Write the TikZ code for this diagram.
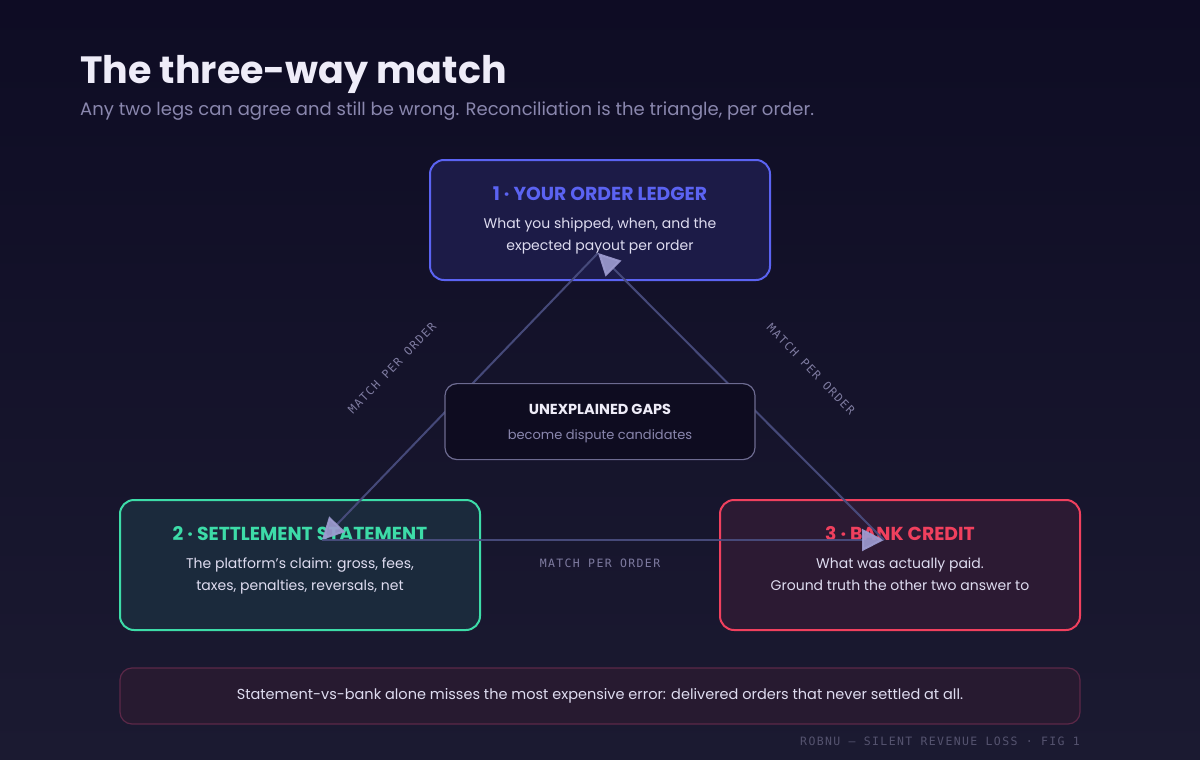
\documentclass[tikz,border=0pt]{standalone}
\usepackage{fontspec}
\setmainfont{Poppins}
\newfontfamily\lblmono[LetterSpace=12]{DejaVu Sans Mono}
\usetikzlibrary{positioning, arrows.meta, calc}
\usepackage{xcolor}
\definecolor{bgtop}{HTML}{0E0C24}
\definecolor{bgbot}{HTML}{1B1A31}
\definecolor{titletxt}{HTML}{EEECF8}
\definecolor{subtxt}{HTML}{8A87AE}
\definecolor{bodytxt}{HTML}{DEDCF0}
\definecolor{ledgerc}{HTML}{5B63F2}
\definecolor{ledgerbg}{HTML}{1C1B47}
\definecolor{settlec}{HTML}{3DDCA8}
\definecolor{settlebg}{HTML}{1B2A3C}
\definecolor{bankc}{HTML}{F0405E}
\definecolor{bankbg}{HTML}{2C1A33}
\definecolor{gapline}{HTML}{6C6A90}
\definecolor{gapbg}{HTML}{0E0C20}
\definecolor{connline}{HTML}{4A4E80}
\definecolor{tipfill}{HTML}{9C9ACF}
\definecolor{lblgray}{HTML}{7E7BA0}
\definecolor{noteline}{HTML}{5C2848}
\definecolor{notebg}{HTML}{271A30}
\definecolor{footgray}{HTML}{55536F}
\newcommand{\cardtitle}[2]{{\color{#1}\fontsize{18.8}{22}\selectfont\bfseries #2}}
\newcommand{\lowpad}{\rule[-14pt]{0pt}{14pt}}
\newcommand{\toppad}{\rule{0pt}{15pt}}
\tikzset{
  card/.style={draw, rounded corners=14pt, line width=2pt, align=center,
               text=bodytxt, font=\fontsize{14}{22}\selectfont},
  ledgercard/.style={card, fill=ledgerbg, draw=ledgerc,
                     minimum width=340pt, minimum height=120pt},
  settlecard/.style={card, fill=settlebg, draw=settlec,
                     minimum width=360pt, minimum height=130pt},
  bankcard/.style={card, fill=bankbg, draw=bankc,
                   minimum width=360pt, minimum height=130pt},
  gapcard/.style={draw=gapline, fill=gapbg, rounded corners=12pt, line width=1.2pt,
                  minimum width=310pt, minimum height=76pt, align=center,
                  text=titletxt, font=\fontsize{14.5}{20}\selectfont},
  notebox/.style={draw=noteline, fill=notebg, rounded corners=12pt, line width=1.2pt,
                  minimum width=960pt, minimum height=56pt,
                  text=bodytxt, font=\fontsize{14.5}{18}\selectfont},
  conn/.style={-{Triangle[length=22pt, width=22pt, fill=tipfill, color=tipfill]},
               draw=connline, line width=2pt, opacity=0.92},
  matchlbl/.style={font=\lblmono\fontsize{11.5}{13}\selectfont, text=lblgray, inner sep=0pt},
  footlbl/.style={font=\lblmono\fontsize{11.5}{13}\selectfont, text=footgray, inner sep=0pt},
}

\begin{document}
\begin{tikzpicture}[x=1pt, y=-1pt]

%% ====================  CANVAS  ====================

\fill[top color=bgtop, bottom color=bgbot] (0,0) rectangle (1200,760);
\useasboundingbox (0,0) rectangle (1200,760);

\node[anchor=base west, inner sep=0pt, text=titletxt,
      font=\fontsize{38}{44}\selectfont\bfseries] (title) at (80,84) {The three-way match};
\node[anchor=base west, inner sep=0pt, text=subtxt,
      font=\fontsize{18}{22}\selectfont] (subtitle) at (80,115)
  {Any two legs can agree and still be wrong. Reconciliation is the triangle, per order.};

%% ====================  THE THREE LEGS  ====================

\node[ledgercard] (ledger) at (600,220)
  {\cardtitle{ledgerc}{1 · YOUR ORDER LEDGER}\\[6pt]
   What you shipped, when, and the\\expected payout per order};

\node[settlecard] (settle) at (300,565)
  {\cardtitle{settlec}{2 · SETTLEMENT STATEMENT}\\[6pt]
   The platform's claim: gross, fees,\\taxes, penalties, reversals, net\lowpad};

\node[bankcard] (bank) at (900,565)
  {\cardtitle{bankc}{3 · BANK CREDIT}\\[6pt]
   What was actually paid.\\Ground truth the other two answer to\lowpad};

%% ====================  MATCH ARROWS  ====================

\coordinate (ledger_in) at ($(ledger.south)+(-2,-28)$);
\coordinate (settle_in) at ($(settle.north)+(22,41)$);
\coordinate (bank_in)   at ($(bank.north)+(-16,41)$);

\draw[conn] (ledger_in) -- (settle_in);
\draw[conn] (settle_in) -- (bank_in);
\draw[conn] (bank_in)   -- (ledger_in);

\node[matchlbl, rotate=46]  (lbl_ls) at (392,368) {MATCH PER ORDER};
\node[matchlbl, rotate=-46] (lbl_lb) at (811,369) {MATCH PER ORDER};
\node[matchlbl]             (lbl_sb) at (600,563) {MATCH PER ORDER};

%% ====================  CENTRE  ====================

\node[gapcard, below=102pt of ledger.south] (gaps)
  {\toppad\textbf{UNEXPLAINED GAPS}\\[5pt]
   {\color{subtxt}\fontsize{13}{18}\selectfont become dispute candidates}};

%% ====================  NOTE + FOOTER  ====================

\node[notebox] (note) at (600,696)
  {Statement-vs-bank alone misses the most expensive error: delivered orders that never settled at all.};

\node[footlbl, anchor=east] (foot) at (1080,741) {ROBNU — SILENT REVENUE LOSS · FIG 1};

\end{tikzpicture}
\end{document}
